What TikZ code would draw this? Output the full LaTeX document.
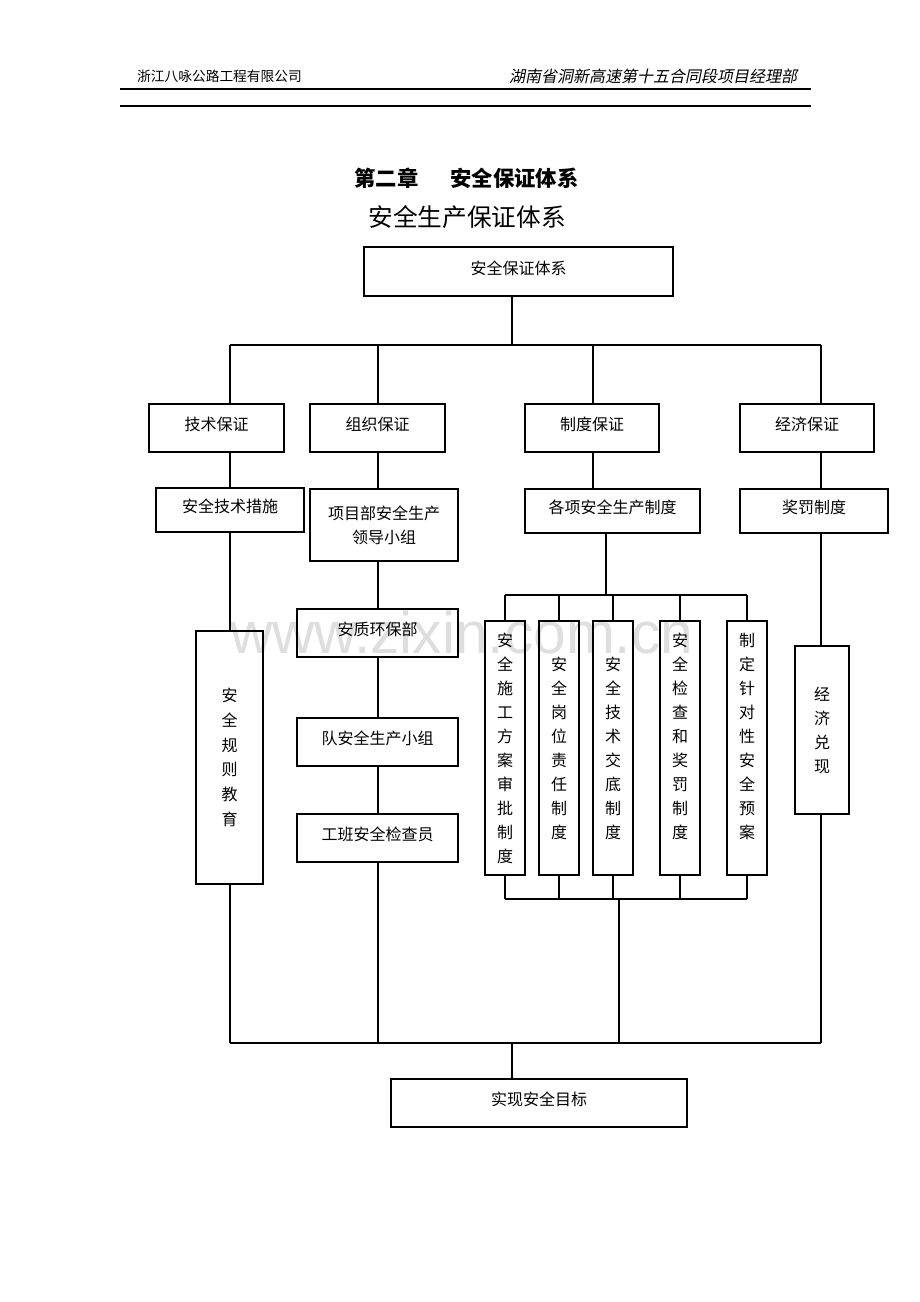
\documentclass[tikz,border=0pt]{standalone}
\usepackage{fontspec}
\setmainfont{Noto Sans CJK SC}
\newfontfamily\slantfont[FakeSlant=0.2]{Noto Sans CJK SC}
\newfontfamily\wmfont{Liberation Sans}
\tikzset{
  box/.style={draw, line width=0.8pt, inner sep=0pt, text height=9pt, text depth=5pt,
    font=\fontsize{12}{18}\selectfont},
  vbox/.style={draw, line width=0.8pt, inner sep=0pt, align=center,
    font=\fontsize{12}{18}\selectfont},
  wh/.style 2 args={minimum width=#1*0.75pt, minimum height=#2*0.75pt},
  link/.style={line width=0.8pt},
}
\begin{document}
\begin{tikzpicture}[x=0.75pt, y=-0.75pt]
\useasboundingbox (0,0) rectangle (920,1302);
% watermark
\node[anchor=base west, inner sep=0pt, text=black!13, font=\wmfont\fontsize{44}{44}\selectfont] (mark) at (230,653) {www.zixin.com.cn};
% page header
\node[font=\fontsize{10.3}{12}\selectfont] (firm) at (219.5,76) {浙江八咏公路工程有限公司};
\node[font=\slantfont\fontsize{12}{14}\selectfont] (dept) at (653,76) {湖南省洞新高速第十五合同段项目经理部};
\draw[line width=1.3pt] (120,89) -- (811,89);
\draw[line width=1.1pt] (120,106) -- (811,106);
% titles
\node[font=\bfseries\fontsize{16}{18}\selectfont] (chap) at (466.5,178) {第二章\hspace{1.5em}安全保证体系};
\node[font=\fontsize{18.5}{20}\selectfont] (head) at (467,217) {安全生产保证体系};
% boxes
\node[box, wh={309}{49}] (top) at (518.5,271.5) {安全保证体系};
\node[box, wh={135}{48}] (tech) at (216.5,428) {技术保证};
\node[box, wh={135}{48}] (org) at (377.5,428) {组织保证};
\node[box, wh={134}{48}] (sys) at (592,428) {制度保证};
\node[box, wh={134}{48}] (econ) at (807,428) {经济保证};
\node[box, wh={148}{44}] (techm) at (230,510) {安全技术措施};
\node[vbox, wh={148}{72}] (lead) at (384,525) {项目部安全生产\\领导小组};
\node[box, wh={175}{44}] (rules) at (612.5,511) {各项安全生产制度};
\node[box, wh={148}{44}] (award) at (814,511) {奖罚制度};
\node[vbox, wh={67}{253}, font=\fontsize{12}{18.5}\selectfont] (edu) at (229.5,757.5) {安\\全\\规\\则\\教\\育};
\node[box, wh={161}{48}] (hse) at (377.5,633) {安质环保部};
\node[box, wh={161}{48}] (team) at (377.5,742) {队安全生产小组};
\node[box, wh={161}{48}] (crew) at (377.5,838) {工班安全检查员};
\node[vbox, wh={40}{254}] (r1) at (505,748) {安\\全\\施\\工\\方\\案\\审\\批\\制\\度};
\node[vbox, wh={40}{254}] (r2) at (559,748) {安\\全\\岗\\位\\责\\任\\制\\度};
\node[vbox, wh={40}{254}] (r3) at (613,748) {安\\全\\技\\术\\交\\底\\制\\度};
\node[vbox, wh={40}{254}] (r4) at (680,748) {安\\全\\检\\查\\和\\奖\\罚\\制\\度\\\mbox{}};
\node[vbox, wh={40}{254}] (r5) at (747,748) {制\\定\\针\\对\\性\\安\\全\\预\\案\\\mbox{}};
\node[vbox, wh={54}{168}] (cash) at (822,730) {经\\济\\兑\\现};
\node[box, wh={296}{48}] (goal) at (539,1103) {实现安全目标};
% bus points
\coordinate (hub) at (512,345);
\coordinate (b1) at (230,345);
\coordinate (b2) at (378,345);
\coordinate (b3) at (593,345);
\coordinate (b4) at (821,345);
\coordinate (rt) at (606,595);
\coordinate (rb) at (619,899);
\coordinate (sink) at (512,1043);
\coordinate (e1) at (230,1043);
\coordinate (e2) at (378,1043);
\coordinate (e3) at (619,1043);
\coordinate (e4) at (821,1043);
% connectors
\draw[link] (top.south -| hub) -- (hub);
\draw[link] (b1) -- (b4);
\foreach \c/\n in {b1/tech, b2/org, b3/sys, b4/econ}
  \draw[link] (\c) -- (\c |- \n.north);
\draw[link] (tech.south -| b1) -- (techm.north -| b1);
\draw[link] (techm.south -| b1) -- (edu.north -| b1);
\draw[link] (edu.south -| b1) -- (e1);
\draw[link] (org.south -| b2) -- (lead.north -| b2);
\draw[link] (lead.south -| b2) -- (hse.north -| b2);
\draw[link] (hse.south -| b2) -- (team.north -| b2);
\draw[link] (team.south -| b2) -- (crew.north -| b2);
\draw[link] (crew.south -| b2) -- (e2);
\draw[link] (sys.south -| b3) -- (rules.north -| b3);
\draw[link] (rules.south -| rt) -- (rt);
\draw[link] (r1 |- rt) -- (r5 |- rt);
\draw[link] (r1 |- rb) -- (r5 |- rb);
\foreach \n in {r1,r2,r3,r4,r5} {
  \draw[link] (\n |- rt) -- (\n.north);
  \draw[link] (\n.south) -- (\n |- rb);
}
\draw[link] (rb) -- (e3);
\draw[link] (econ.south -| b4) -- (award.north -| b4);
\draw[link] (award.south -| b4) -- (cash.north -| b4);
\draw[link] (cash.south -| b4) -- (e4);
\draw[link] (e1) -- (e4);
\draw[link] (sink) -- (goal.north -| sink);
\end{tikzpicture}
\end{document}
